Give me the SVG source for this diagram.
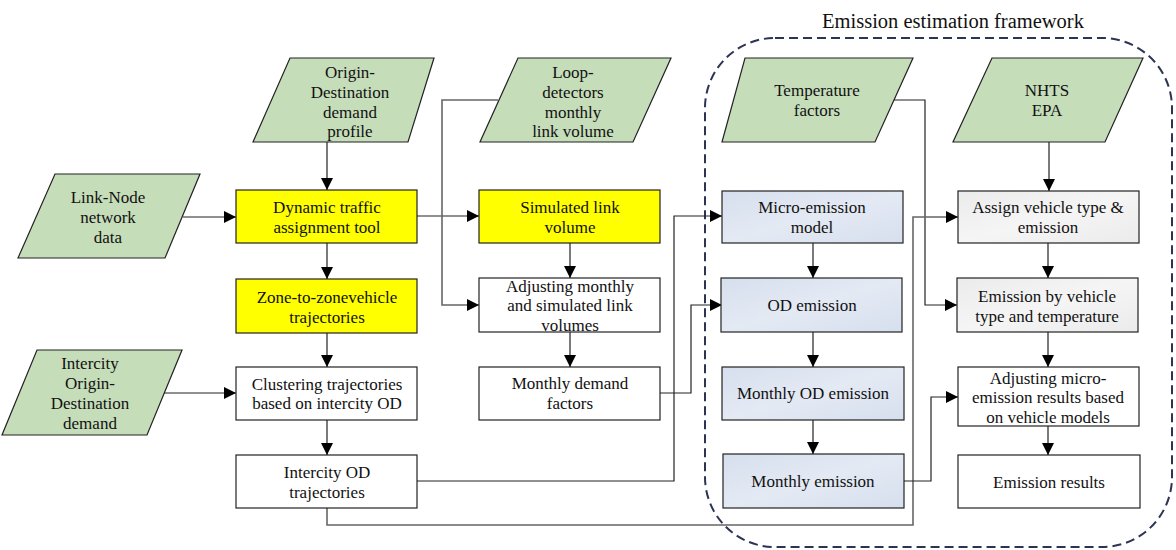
<svg xmlns="http://www.w3.org/2000/svg" width="1176" height="550" viewBox="0 0 1176 550">
<defs>
<marker id="ah" markerWidth="12" markerHeight="12" viewBox="0 0 12 12" refX="12" refY="6" orient="auto" markerUnits="userSpaceOnUse">
<path d="M0,0 L12,6 L0,12 Z" fill="#000"/>
</marker>
<linearGradient id="blue" x1="0" y1="0" x2="1" y2="1">
<stop offset="0" stop-color="#D6DFEE"/>
<stop offset="0.5" stop-color="#E4EAF4"/>
<stop offset="1" stop-color="#D6DFEE"/>
</linearGradient>
<linearGradient id="gray" x1="0" y1="0" x2="1" y2="1">
<stop offset="0" stop-color="#EBEBEB"/>
<stop offset="0.5" stop-color="#F5F5F5"/>
<stop offset="1" stop-color="#EBEBEB"/>
</linearGradient>
</defs>
<style>
text{font-family:"Liberation Serif","Times New Roman",serif;font-size:17px;fill:#111;text-anchor:middle}
.title{font-size:20.5px}
.data{fill:#C6DDBA;stroke:#222;stroke-width:1.2}
.yel{fill:#FFFF00;stroke:#222;stroke-width:1.2}
.wht{fill:#FFFFFF;stroke:#222;stroke-width:1.2}
.blu{fill:url(#blue);stroke:#222;stroke-width:1.2}
.gry{fill:url(#gray);stroke:#222;stroke-width:1.2}
.c{fill:none;stroke:#222;stroke-width:1.2}
.g{fill:none;stroke:#666;stroke-width:1.6}
.a{marker-end:url(#ah)}
</style>
<rect width="1176" height="550" fill="#FFFFFF"/>

<g id="framework">
<rect x="705" y="38" width="467" height="509" rx="70" ry="70" fill="none" stroke="#2B3553" stroke-width="2" stroke-dasharray="9,5"/>
<text class="title" x="953" y="28">Emission estimation framework</text>
</g>

<g id="connectors">
<path class="c a" d="M327,142 V190"/>
<path class="c a" d="M183,217 H236"/>
<path class="c a" d="M417,216 H479"/>
<path class="g a" d="M498,100 H442 V305 H479"/>
<path class="c a" d="M327,243 V279"/>
<path class="c a" d="M327,333 V367"/>
<path class="c a" d="M163,393 H236"/>
<path class="c a" d="M327,420 V455"/>
<path class="c a" d="M570,243 V278"/>
<path class="c a" d="M570,332 V367"/>
<path class="c a" d="M417,481 H674 V216 H722"/>
<path class="c a" d="M660,393 H691 V305 H722"/>
<path class="c a" d="M813,243 V278"/>
<path class="c a" d="M813,332 V367"/>
<path class="c a" d="M813,420 V454"/>
<path class="c a" d="M1049,142 V191"/>
<path class="c a" d="M893,100 H925 V305 H957"/>
<path class="g a" d="M327,508 V525 H913 V217 H958"/>
<path class="c a" d="M1048,243 V278"/>
<path class="c a" d="M1048,332 V367"/>
<path class="c a" d="M904,481 H931 V397 H958"/>
<path class="c a" d="M1048,426 V455"/>
</g>

<g id="od-profile">
<polygon class="data" points="290,58 434,58 408,142 253,142"/>
<text x="350" y="78">Origin-</text>
<text x="350" y="98">Destination</text>
<text x="350" y="118">demand</text>
<text x="350" y="137">profile</text>
</g>
<g id="link-node">
<polygon class="data" points="55,174 200,174 165,258 18,258"/>
<text x="108" y="203">Link-Node</text>
<text x="108" y="223">network</text>
<text x="108" y="243">data</text>
</g>
<g id="loop-detectors">
<polygon class="data" points="518,58 671,58 633,142 480,142"/>
<text x="573" y="78">Loop-</text>
<text x="573" y="98">detectors</text>
<text x="573" y="118">monthly</text>
<text x="573" y="137">link volume</text>
</g>
<g id="intercity-od">
<polygon class="data" points="37,350 182,350 147,435 2,435"/>
<text x="90" y="369">Intercity</text>
<text x="90" y="389">Origin-</text>
<text x="90" y="409">Destination</text>
<text x="90" y="429">demand</text>
</g>
<g id="temperature">
<polygon class="data" points="745,58 913,58 875,142 722,142"/>
<text x="817" y="96">Temperature</text>
<text x="817" y="116">factors</text>
</g>
<g id="nhts-epa">
<polygon class="data" points="992,58 1143,58 1105,142 953,142"/>
<text x="1047" y="96">NHTS</text>
<text x="1047" y="116">EPA</text>
</g>

<g id="dta">
<rect class="yel" x="236" y="190" width="181" height="53"/>
<text x="327" y="213">Dynamic traffic</text>
<text x="327" y="233">assignment tool</text>
</g>
<g id="zone-traj">
<rect class="yel" x="236" y="279" width="181" height="54"/>
<text x="327" y="303">Zone-to-zonevehicle</text>
<text x="327" y="323">trajectories</text>
</g>
<g id="clustering">
<rect class="wht" x="236" y="367" width="181" height="53"/>
<text x="327" y="390">Clustering trajectories</text>
<text x="327" y="409">based on intercity OD</text>
</g>
<g id="intercity-traj">
<rect class="wht" x="236" y="455" width="181" height="53"/>
<text x="327" y="478">Intercity OD</text>
<text x="327" y="498">trajectories</text>
</g>
<g id="simulated">
<rect class="yel" x="479" y="190" width="181" height="53"/>
<text x="570" y="213">Simulated link</text>
<text x="570" y="233">volume</text>
</g>
<g id="adjusting-monthly">
<rect class="wht" x="479" y="278" width="181" height="54"/>
<text x="570" y="292">Adjusting monthly</text>
<text x="570" y="311">and simulated link</text>
<text x="570" y="331">volumes</text>
</g>
<g id="monthly-demand">
<rect class="wht" x="479" y="367" width="181" height="53"/>
<text x="570" y="389">Monthly demand</text>
<text x="570" y="409">factors</text>
</g>
<g id="micro-emission">
<rect class="blu" x="722" y="191" width="181" height="52"/>
<text x="812" y="213">Micro-emission</text>
<text x="812" y="233">model</text>
</g>
<g id="od-emission">
<rect class="blu" x="721" y="278" width="181" height="54"/>
<text x="812" y="311">OD emission</text>
</g>
<g id="monthly-od-emission">
<rect class="blu" x="722" y="367" width="182" height="53"/>
<text x="813" y="399">Monthly OD emission</text>
</g>
<g id="monthly-emission">
<rect class="blu" x="723" y="454" width="181" height="54"/>
<text x="813" y="487">Monthly emission</text>
</g>
<g id="assign-vehicle">
<rect class="gry" x="958" y="191" width="181" height="52"/>
<text x="1048" y="213">Assign vehicle type &amp;</text>
<text x="1048" y="233">emission</text>
</g>
<g id="emission-by-vehicle">
<rect class="gry" x="957" y="278" width="181" height="54"/>
<text x="1047" y="302">Emission by vehicle</text>
<text x="1047" y="322">type and temperature</text>
</g>
<g id="adjusting-micro">
<rect class="wht" x="958" y="367" width="181" height="59"/>
<text x="1048" y="384">Adjusting micro-</text>
<text x="1048" y="403">emission results based</text>
<text x="1048" y="423">on vehicle models</text>
</g>
<g id="emission-results">
<rect class="wht" x="958" y="455" width="182" height="53"/>
<text x="1049" y="488">Emission results</text>
</g>
</svg>
